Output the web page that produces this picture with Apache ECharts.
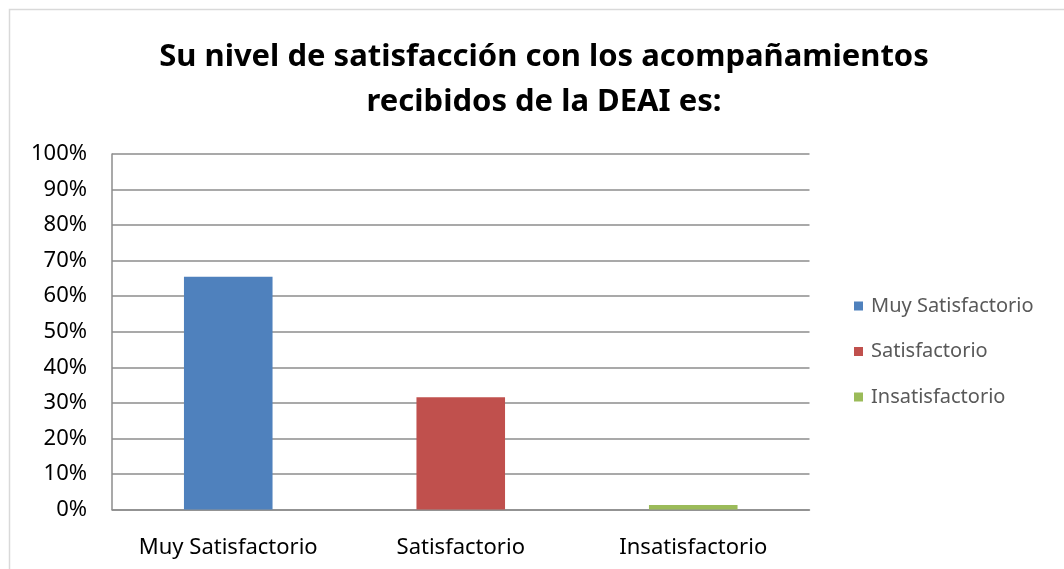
<!DOCTYPE html>
<html>
<head>
<meta charset="utf-8">
<script src="https://cdn.jsdelivr.net/npm/echarts@6/dist/echarts.min.js"></script>
<style>html,body{margin:0;padding:0;background:#fff;}#c{width:1064px;height:569px;}</style>
</head>
<body>
<div id="c"></div>
<script>
const titleLines = ['Su nivel de satisfacción con los acompañamientos', 'recibidos de la DEAI es:'];
const categories = ['Muy Satisfactorio', 'Satisfactorio', 'Insatisfactorio'];
const values = [65.5, 31.6, 1.3];
const colors = ['#4F81BD', '#C0504D', '#9BBB59'];
const yTicks = [0, 10, 20, 30, 40, 50, 60, 70, 80, 90, 100];

const series = categories.map((name, i) => ({
  name: name,
  type: 'bar',
  stack: 'all',
  barWidth: '38.1%',
  itemStyle: { color: colors[i] },
  data: categories.map((c, j) => (j === i ? values[i] : '-'))
}));

const chart = echarts.init(document.getElementById('c'), null, { renderer: 'canvas' });
chart.setOption({
  animation: false,
  backgroundColor: '#fff',
  title: {
    text: titleLines.join('\n'),
    left: 539,
    top: 30,
    padding: 5,
    textAlign: 'center',
    textStyle: {
      fontFamily: '"Noto Sans", sans-serif',
      fontWeight: 'bold',
      fontSize: 31,
      lineHeight: 45,
      color: '#000'
    }
  },
  graphic: [{
    type: 'rect',
    shape: { x: 9.5, y: 9.5, width: 1100, height: 620 },
    style: { fill: 'none', stroke: '#d9d9d9', lineWidth: 1.5 },
    silent: true
  }],
  legend: {
    orient: 'vertical',
    left: 854,
    top: 296,
    padding: 0,
    itemWidth: 9,
    itemHeight: 9,
    itemGap: 25.5,
    icon: 'rect',
    data: categories,
    textStyle: {
      fontFamily: '"Noto Sans", sans-serif',
      fontSize: 20,
      lineHeight: 20,
      color: '#595959',
      padding: [0, 0, 0, 3]
    }
  },
  grid: { left: 112, right: 254.5, top: 154, bottom: 59.5, containLabel: false },
  xAxis: {
    type: 'category',
    data: categories,
    axisTick: { show: false },
    axisLine: { lineStyle: { color: '#8c8c8c', width: 1.5 } },
    axisLabel: {
      interval: 0,
      margin: 27,
      fontFamily: '"Noto Sans", sans-serif',
      fontSize: 22,
      color: '#000'
    }
  },
  yAxis: {
    type: 'value',
    min: yTicks[0],
    max: yTicks[yTicks.length - 1],
    interval: 10,
    axisLine: { show: true, lineStyle: { color: '#8c8c8c', width: 1.5 } },
    axisTick: { show: false },
    splitLine: { lineStyle: { color: '#8c8c8c', width: 1.5 } },
    axisLabel: {
      margin: 25,
      formatter: v => v + '%',
      fontFamily: '"Noto Sans", sans-serif',
      fontSize: 22,
      color: '#000'
    }
  },
  series: series
});
</script>
</body>
</html>
